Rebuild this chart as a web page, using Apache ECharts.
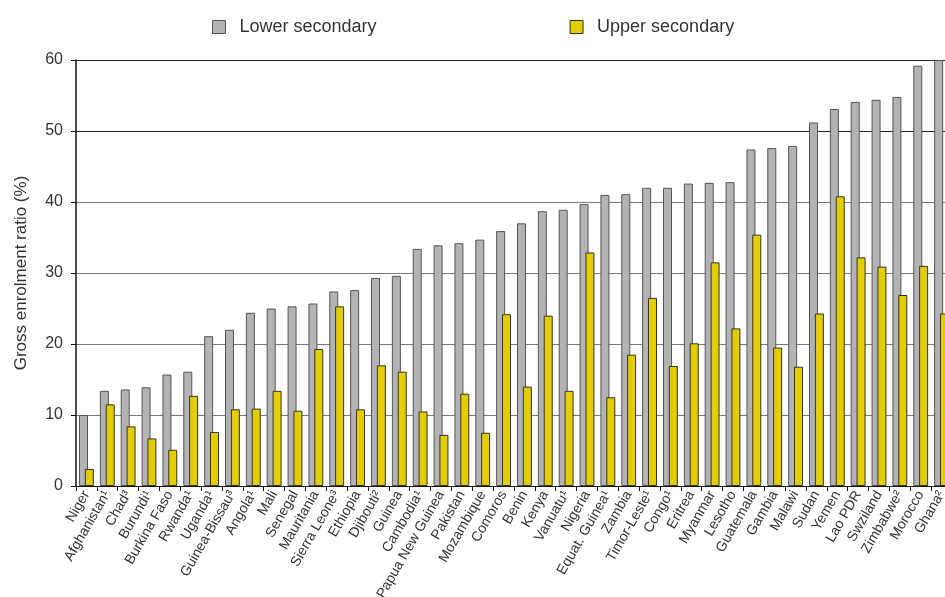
<!DOCTYPE html>
<html>
<head>
<meta charset="utf-8">
<script src="https://cdn.jsdelivr.net/npm/echarts@6/dist/echarts.min.js"></script>
<style>
html,body{margin:0;padding:0;background:#fff;}
#chart{width:945px;height:597px;}
</style>
</head>
<body>
<div id="chart"></div>
<script>
const categories = ['Niger','Afghanistan¹','Chad³','Burundi¹','Burkina Faso','Rwanda¹','Uganda¹','Guinea-Bissau³','Angola¹','Mali','Senegal','Mauritania','Sierra Leone³','Ethiopia','Djibouti²','Guinea','Cambodia¹','Papua New Guinea','Pakistan','Mozambique','Comoros','Benin','Kenya','Vanuatu¹','Nigeria','Equat. Guinea¹','Zambia','Timor-Leste¹','Congo¹','Eritrea','Myanmar','Lesotho','Guatemala','Gambia','Malawi','Sudan','Yemen','Lao PDR','Swziland','Zimbabwe²','Morocco','Ghana²'];
const lowerSecondary = [10.0,13.4,13.6,13.9,15.7,16.1,21.1,22.0,24.4,25.0,25.3,25.7,27.4,27.6,29.3,29.6,33.4,33.9,34.2,34.7,35.9,37.0,38.7,38.9,39.7,41.0,41.1,42.0,42.0,42.6,42.7,42.8,47.4,47.6,47.9,51.2,53.1,54.1,54.4,54.8,59.2,60.0];
const upperSecondary = [2.4,11.5,8.4,6.7,5.1,12.7,7.6,10.8,10.9,13.4,10.6,19.3,25.3,10.8,17.0,16.1,10.5,7.2,13.0,7.5,24.2,14.0,24.0,13.4,32.9,12.5,18.5,26.5,16.9,20.1,31.5,22.2,35.4,19.5,16.8,24.3,40.8,32.2,30.9,26.9,31.0,24.3];
const yTicks = [0,10,20,30,40,50,60];

const chart = echarts.init(document.getElementById('chart'), null, {renderer:'canvas'});
const font = 'Liberation Sans, Arial, sans-serif';
chart.setOption({
  animation:false,
  textStyle:{fontFamily:font},
  legend:{
    top:13, left:207, itemWidth:13, itemHeight:13, itemGap:193, icon:'rect',
    textStyle:{fontSize:18, color:'#333', fontFamily:font, padding:[0,0,0,9]},
    data:[
      {name:'Lower secondary', itemStyle:{color:'#b3b3b3', borderColor:'#555', borderWidth:1}},
      {name:'Upper secondary', itemStyle:{color:'#e3cc00', borderColor:'#333', borderWidth:1}}
    ]
  },
  grid:{left:76, right:-7, top:60, bottom:111, containLabel:false, outerBoundsMode:'none'},
  xAxis:{
    type:'category', data:categories,
    axisLine:{lineStyle:{color:'#111', width:1}},
    axisTick:{show:true, length:5, lineStyle:{color:'#111'}},
    axisLabel:{rotate:60, interval:0, fontSize:14, color:'#333', margin:6, fontFamily:font}
  },
  yAxis:{
    type:'value', min:0, max:60, interval:10,
    name:'Gross enrolment ratio (%)', nameLocation:'middle', nameGap:46,
    nameTextStyle:{fontSize:17, color:'#333', fontFamily:font},
    axisLine:{show:true, lineStyle:{color:'#111', width:1.5}},
    axisTick:{show:true, length:5, lineStyle:{color:'#111'}},
    axisLabel:{fontSize:16, color:'#333', margin:13, fontFamily:font,
      formatter:function(v){return yTicks.indexOf(v)>=0 ? String(v) : '';}},
    splitLine:{show:true, lineStyle:{color:['#777','#777','#777','#777','#777','#222','#222'], width:1}}
  },
  series:[
    {name:'Lower secondary', type:'bar', data:lowerSecondary, barWidth:9, barGap:'-35%',
      itemStyle:{color:'#b3b3b3', borderColor:'#555', borderWidth:1}},
    {name:'Upper secondary', type:'bar', data:upperSecondary, barWidth:9, barGap:'-35%',
      itemStyle:{color:'#e3cc00', borderColor:'#333', borderWidth:1}}
  ]
});
</script>
</body>
</html>
